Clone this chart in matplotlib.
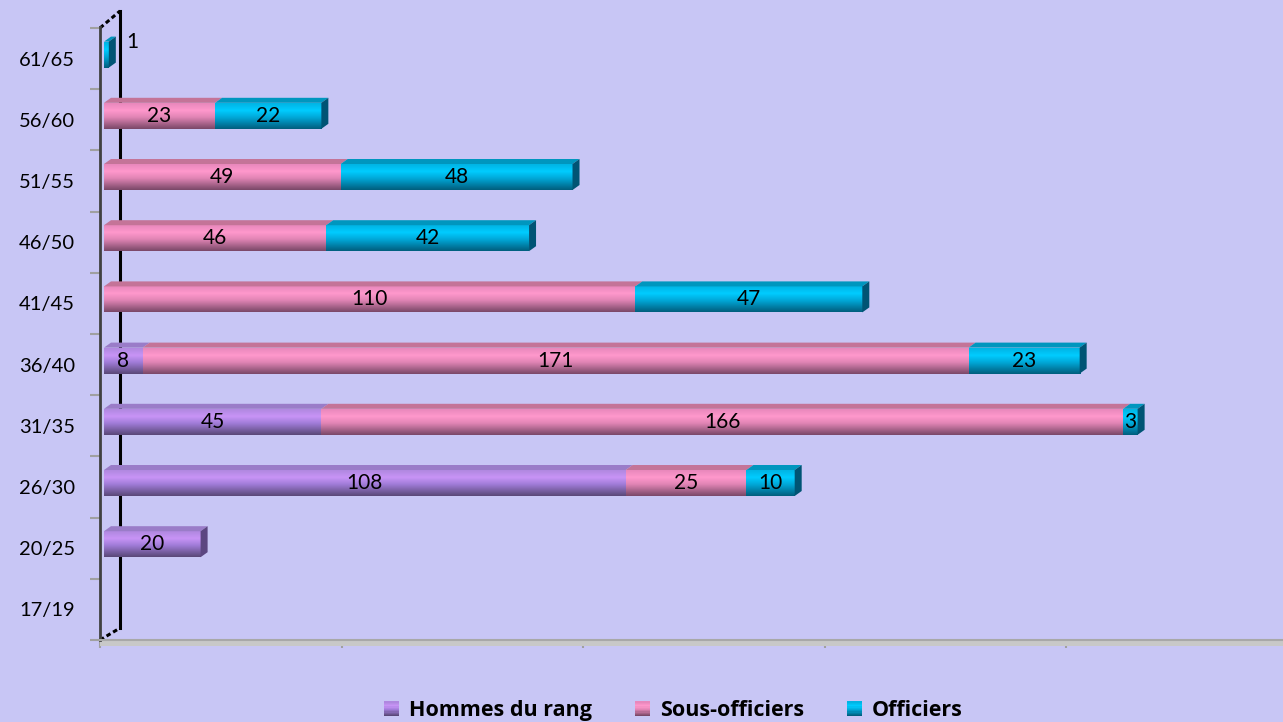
import numpy as np
import matplotlib

matplotlib.use("Agg")
import matplotlib.pyplot as plt
from matplotlib.colors import LinearSegmentedColormap
from matplotlib.patches import Polygon, Rectangle
from matplotlib.legend_handler import HandlerBase

plt.rcParams["font.family"] = ["Lato", "DejaVu Sans"]
plt.rcParams["savefig.bbox"] = None

# Data
categories = ["17/19", "20/25", "26/30", "31/35", "36/40",
              "41/45", "46/50", "51/55", "56/60", "61/65"]
series_names = ["Hommes du rang", "Sous-officiers", "Officiers"]
hommes = [0, 20, 108, 45, 8, 0, 0, 0, 0, 0]
sous_officiers = [0, 0, 25, 166, 171, 110, 46, 49, 23, 0]
officiers = [0, 0, 10, 3, 23, 47, 42, 48, 22, 1]
x_ticks = [0, 50, 100, 150, 200]

# Colours: front gradient (top, highlight, bottom), top face, side face
STYLES = [
    {"front": ["#B088E0", "#C894F6", "#A07CD8", "#5A4878"], "top": "#9A7CC8", "side": "#5C4680"},
    {"front": ["#E888BC", "#FF98CC", "#E084B4", "#7A4868"], "top": "#C47498", "side": "#7A4868"},
    {"front": ["#00B4E4", "#00CCFF", "#00A8D8", "#005E7E"], "top": "#0096BE", "side": "#005474"},
]
BG = "#C8C6F5"

W, H = 1283, 722
AX_LEFT, AX_RIGHT, AX_TOP, AX_BOTTOM = 100, 1283, 28, 640
PX_PER_UNIT = 4.83
XMAX = (AX_RIGHT - AX_LEFT) / PX_PER_UNIT
PX_X = 1 / PX_PER_UNIT                    # data units per pixel (x)
PX_Y = 10 / (AX_BOTTOM - AX_TOP)          # data units per pixel (y)

BAR_H = 26 * PX_Y
BAR_SHIFT = 4 * PX_Y
LEFT_PAD = 4 * PX_X
DX, DY = 7 * PX_X, 5 * PX_Y

fig = plt.figure(figsize=(W / 100, H / 100), dpi=100)
fig.patch.set_facecolor(BG)
ax = fig.add_axes([AX_LEFT / W, (H - AX_BOTTOM) / H,
                   (AX_RIGHT - AX_LEFT) / W, (AX_BOTTOM - AX_TOP) / H])
ax.set_facecolor(BG)

# back wall line and 3D connectors
back_x = 20 * PX_X
ax.plot([back_x, back_x], [-0.5 + 12 * PX_Y, 9.5 + 17 * PX_Y], color="black",
        lw=2.2, clip_on=False, zorder=1)
ax.plot([0, back_x], [9.5, 9.5 + 17 * PX_Y], color="black", lw=2.2,
        ls=(0, (1.5, 1)), clip_on=False, zorder=1)
ax.plot([0, back_x], [-0.5, -0.5 + 12 * PX_Y], color="black", lw=2.2,
        ls=(0, (1.5, 1)), clip_on=False, zorder=1)

# floor band
ax.add_patch(Rectangle((0, -6 / (AX_BOTTOM - AX_TOP)), 1, 6 / (AX_BOTTOM - AX_TOP),
                       transform=ax.transAxes, facecolor="#C8C8C8",
                       edgecolor="none", clip_on=False, zorder=2))

cmaps = [LinearSegmentedColormap.from_list(f"g{i}", list(zip([0, 0.28, 0.55, 1], s["front"])))
         for i, s in enumerate(STYLES)]

all_series = [hommes, sous_officiers, officiers]
for i in range(len(categories)):
    yb = i + BAR_SHIFT - BAR_H / 2
    yt = yb + BAR_H
    left = LEFT_PAD
    segs = []
    for k, vals in enumerate(all_series):
        v = vals[i]
        if v <= 0:
            continue
        segs.append((k, left, left + v, v))
        left += v
    for n, (k, x0, x1, v) in enumerate(segs):
        grad = cmaps[k](np.linspace(0, 1, 64))[:, None, :]
        ax.imshow(grad, extent=[x0, x1, yb, yt], origin="upper", aspect="auto",
                  interpolation="bilinear", zorder=3)
        ax.add_patch(Polygon([(x0, yt), (x0 + DX, yt + DY), (x1 + DX, yt + DY), (x1, yt)],
                             closed=True, facecolor=STYLES[k]["top"], edgecolor="none",
                             zorder=3))
        if n == len(segs) - 1:
            ax.add_patch(Polygon([(x1, yb), (x1, yt), (x1 + DX, yt + DY), (x1 + DX, yb + DY)],
                                 closed=True, facecolor=STYLES[k]["side"], edgecolor="none",
                                 zorder=3))
        if (x1 - x0) / PX_X < 10:
            ax.text(x1 + DX + 10 * PX_X, yt, str(v), ha="left", va="center",
                    fontsize=15, color="black", zorder=5)
        else:
            ax.text((x0 + x1) / 2, (yb + yt) / 2, str(v), ha="center", va="center",
                    fontsize=15, color="black", zorder=5)

ax.set_xlim(0, XMAX)
ax.set_ylim(-0.5, 9.5)

for side in ["top", "right"]:
    ax.spines[side].set_visible(False)
ax.spines["left"].set_color("#404040")
ax.spines["left"].set_linewidth(2)
ax.spines["left"].set_bounds(-0.5, 9.5 + 1 * PX_Y)
ax.spines["bottom"].set_color("#A8A8A8")
ax.spines["bottom"].set_linewidth(1.5)
ax.spines["bottom"].set_zorder(2.5)

ax.set_yticks(range(len(categories)))
ax.set_yticklabels(categories)
ax.set_yticks(np.arange(-0.5, len(categories), 1.0), minor=True)
ax.tick_params(axis="y", which="major", length=0, pad=18, labelsize=14.5)
ax.tick_params(axis="y", which="minor", length=7, width=1.5, color="#A0A0A0")
ax.set_xticks(x_ticks)
ax.tick_params(axis="x", which="major", length=6, width=1.5, color="#A0A0A0",
               labelbottom=False)


class GradientHandler(HandlerBase):
    def __init__(self, cmap):
        super().__init__()
        self.cmap = cmap

    def create_artists(self, legend, orig_handle, xdescent, ydescent, width,
                       height, fontsize, trans):
        n = 12
        side = height
        x = -xdescent + (width - side) / 2
        arts = []
        for j in range(n):
            c = self.cmap(j / (n - 1))
            r = Rectangle((x, -ydescent + side * (n - 1 - j) / n), side, side / n,
                          facecolor=c, edgecolor="none", transform=trans)
            arts.append(r)
        return arts


handles = [Rectangle((0, 0), 1, 1, facecolor=s["front"][1]) for s in STYLES]
hmap = {h: GradientHandler(cm) for h, cm in zip(handles, cmaps)}
fig.legend(handles, series_names, loc="lower center", bbox_to_anchor=(0.525, -0.026),
           ncol=3, frameon=False, handler_map=hmap, handlelength=0.7,
           handleheight=0.7, handletextpad=0.45, columnspacing=2.0,
           prop={"family": ["Open Sans", "DejaVu Sans"], "weight": "bold", "size": 15.5})

fig.savefig("out.png", dpi=100, facecolor=BG)
